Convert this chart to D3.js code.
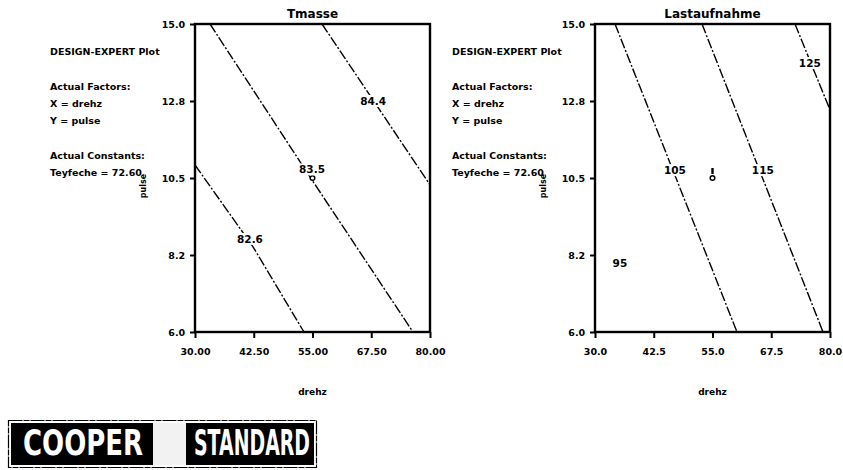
<!DOCTYPE html>
<html>
<head>
<meta charset="utf-8">
<script src="https://cdn.jsdelivr.net/npm/d3@7/dist/d3.min.js"></script>
<style>
  html, body { margin: 0; padding: 0; background: #fff; }
  svg { display: block; }
  text { font-family: "DejaVu Sans", "Liberation Sans", Arial, sans-serif; font-weight: bold; fill: #000; }
</style>
</head>
<body>
<svg id="chart" width="843" height="470"></svg>
<script>
// ---- data ----
const xDomain = [30, 80];
const yDomain = [6, 15];
const xTickValues = [30, 42.5, 55, 67.5, 80];
const yTickValues = [6, 8.25, 10.5, 12.75, 15];
const yTickLabels = ["6.0", "8.2", "10.5", "12.8", "15.0"];
const xTickLabelsTmasse = ["30.00", "42.50", "55.00", "67.50", "80.00"];
const xTickLabelsLast = ["30.0", "42.5", "55.0", "67.5", "80.0"];

const infoLines = ["DESIGN-EXPERT Plot", "", "Actual Factors:", "X = drehz", "Y = pulse", "", "Actual Constants:", "Teyfeche = 72.60"];

// Tmasse contours: level, polyline (drehz, pulse), label anchor
const tmasseLevels = [82.6, 83.5, 84.4];
const tmasseLines = [
  [[30, 10.88], [42.34, 8.49], [53.19, 6.0]],
  [[33.19, 15], [54.9, 10.44], [76.38, 6]],
  [[57.02, 15], [80, 10.3]]
];
const tmasseLabelAt = [[41.7, 8.72], [54.9, 10.75], [67.9, 12.75]];

// Lastaufnahme contours
const lastLevels = [95, 105, 115, 125];
const lastLines = [
  [],
  [[34.26, 15], [60.21, 6]],
  [[52.77, 15], [78.51, 6]],
  [[72.55, 15], [80, 12.49]]
];
const lastLabelAt = [[35.3, 8.02], [47.0, 10.73], [65.7, 10.73], [75.7, 13.86]];

// design centre point
const centrePoint = [55, 10.5];

// ---- drawing ----
const svg = d3.select("#chart");

function drawPanel(opt) {
  const x = d3.scaleLinear().domain(xDomain).range([opt.left, opt.right]);
  const y = d3.scaleLinear().domain(yDomain).range([opt.bottom, opt.top]);
  const g = svg.append("g");

  // info block
  const info = g.append("g");
  infoLines.forEach((t, i) => {
    if (!t) return;
    info.append("text").attr("x", opt.infoX).attr("y", 55 + i * 17.3)
      .attr("font-size", 9.5).text(t);
  });

  // contour lines
  const line = d3.line().x(d => x(d[0])).y(d => y(d[1]));
  opt.lines.forEach(pts => {
    if (!pts.length) return;
    g.append("path").attr("d", line(pts))
      .attr("fill", "none").attr("stroke", "#000").attr("stroke-width", 1.4)
      .attr("stroke-dasharray", "10,2,2,2");
  });

  // centre point
  g.append("circle").attr("cx", x(centrePoint[0])).attr("cy", y(centrePoint[1]))
    .attr("r", 2.3).attr("fill", "#fff").attr("stroke", "#000").attr("stroke-width", 1.5);
  if (opt.pointMark) {
    g.append("line").attr("x1", x(centrePoint[0])).attr("x2", x(centrePoint[0]))
      .attr("y1", y(centrePoint[1]) - 10).attr("y2", y(centrePoint[1]) - 4)
      .attr("stroke", "#000").attr("stroke-width", 2.4);
  }

  // contour labels
  opt.levels.forEach((v, i) => {
    const p = opt.labelAt[i];
    const t = g.append("text").attr("x", x(p[0])).attr("y", y(p[1]) + 4)
      .attr("text-anchor", "middle").attr("font-size", 10.5).text(opt.fmt(v));
    const b = t.node().getBBox();
    g.insert("rect", () => t.node())
      .attr("x", b.x - 2).attr("y", b.y).attr("width", b.width + 4).attr("height", b.height)
      .attr("fill", "#fff");
  });

  // axes
  const xAxis = d3.axisBottom(x).tickValues(xTickValues).tickSize(6)
    .tickFormat((d, i) => opt.xLabels[i]);
  const yAxis = d3.axisLeft(y).tickValues(yTickValues).tickSize(5)
    .tickFormat((d, i) => yTickLabels[i]);
  const gx = g.append("g").attr("transform", `translate(0,${opt.bottom})`).call(xAxis);
  const gy = g.append("g").attr("transform", `translate(${opt.left},0)`).call(yAxis);
  [gx, gy].forEach(a => {
    a.select(".domain").remove();
    a.selectAll(".tick line").attr("stroke", "#000").attr("stroke-width", 2);
    a.selectAll(".tick text").attr("font-size", 9.5)
      .attr("font-family", "DejaVu Sans, Liberation Sans, Arial, sans-serif").attr("font-weight", "bold");
  });
  gx.selectAll(".tick text").attr("dy", "1.45em");
  gy.selectAll(".tick text").attr("dx", "-0.2em");

  // frame
  g.append("rect").attr("x", opt.left).attr("y", opt.top)
    .attr("width", opt.right - opt.left).attr("height", opt.bottom - opt.top)
    .attr("fill", "none").attr("stroke", "#000").attr("stroke-width", 2.4);

  // titles
  g.append("text").attr("x", (opt.left + opt.right) / 2).attr("y", 18)
    .attr("text-anchor", "middle").attr("font-size", 12).text(opt.title);
  g.append("text").attr("x", (opt.left + opt.right) / 2).attr("y", 395)
    .attr("text-anchor", "middle").attr("font-size", 9).text("drehz");
  g.append("text").attr("transform", `translate(${opt.left - 49},${(opt.top + opt.bottom) / 2 + 8}) rotate(-90)`)
    .attr("text-anchor", "middle").attr("font-size", 8).text("pulse");
}

drawPanel({
  left: 195, right: 430, top: 24, bottom: 332, infoX: 50,
  title: "Tmasse", xLabels: xTickLabelsTmasse,
  levels: tmasseLevels, lines: tmasseLines, labelAt: tmasseLabelAt,
  fmt: d3.format(".1f"), pointMark: false
});
drawPanel({
  left: 595, right: 830, top: 24, bottom: 332, infoX: 452,
  title: "Lastaufnahme", xLabels: xTickLabelsLast,
  levels: lastLevels, lines: lastLines, labelAt: lastLabelAt,
  fmt: d3.format("d"), pointMark: true
});

// company logo
const logo = svg.append("g");
logo.append("rect").attr("x", 8.5).attr("y", 420.5).attr("width", 308).attr("height", 47)
  .attr("fill", "#fff").attr("stroke", "#000").attr("stroke-width", 1.2)
  .attr("stroke-dasharray", "14,1,6,1");
logo.append("rect").attr("x", 11).attr("y", 423).attr("width", 303).attr("height", 42).attr("fill", "#000");
logo.append("rect").attr("x", 153).attr("y", 423).attr("width", 33).attr("height", 42).attr("fill", "#f2f2f2");
logo.append("text").attr("x", 23).attr("y", 455).attr("font-size", 36)
  .attr("font-family", "Liberation Sans, Arial, sans-serif")
  .attr("textLength", 120).attr("lengthAdjust", "spacingAndGlyphs")
  .style("fill", "#fff").text("COOPER");
logo.append("text").attr("x", 194).attr("y", 455).attr("font-size", 36)
  .attr("font-family", "Liberation Sans, Arial, sans-serif")
  .attr("textLength", 116).attr("lengthAdjust", "spacingAndGlyphs")
  .style("fill", "#fff").text("STANDARD");
</script>
</body>
</html>
